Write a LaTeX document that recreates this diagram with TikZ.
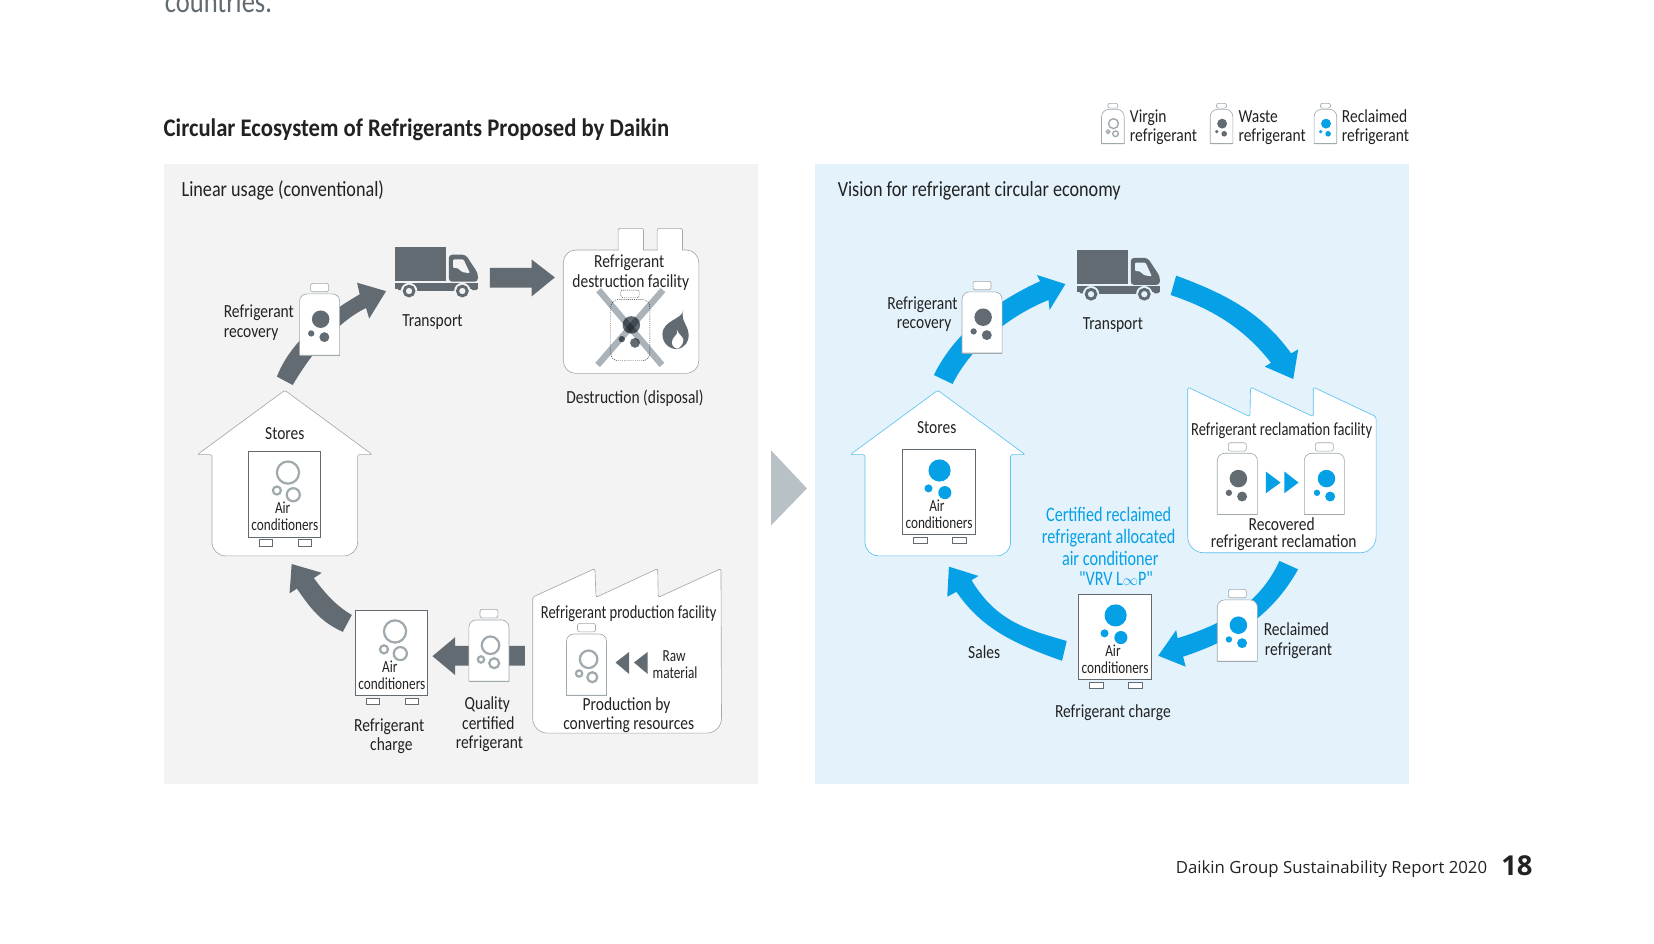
\documentclass[tikz,border=0pt]{standalone}
\usepackage{fontspec}
\setmainfont[FakeStretch=0.84]{Carlito}
\newfontfamily\tightfont[FakeStretch=0.786]{Carlito}
\newfontfamily\titlefont[FakeStretch=0.896]{Carlito}
\newfontfamily\footfont{Open Sans}
\definecolor{slate}{HTML}{636B72}
\definecolor{ring}{HTML}{9FA9AE}
\definecolor{cross}{HTML}{A9B3B9}
\definecolor{skyblue}{HTML}{05A0E6}
\definecolor{skyline}{HTML}{5BC1EE}
\definecolor{inkgrey}{HTML}{222222}
\definecolor{palegrey}{HTML}{F3F3F3}
\definecolor{paleblue}{HTML}{E3F2FB}
\definecolor{wedge}{HTML}{B8C1C5}
\tikzset{
	tag/.style={font=\fontsize{17.5}{18}\selectfont, text=inkgrey, inner sep=0pt, text height=14pt, text depth=1.5pt},
	tighttag/.style={tag, font=\tightfont\fontsize{17.5}{18}\selectfont},
	smalltag/.style={font=\tightfont\fontsize{16}{16}\selectfont, text=inkgrey, inner sep=0pt, text height=13pt, text depth=1pt},
	head/.style={font=\fontsize{20.5}{20.5}\selectfont, text=inkgrey, inner sep=0pt, anchor=base west},
	bluetag/.style={font=\tightfont\fontsize{19.5}{19.5}\selectfont, text=skyblue, inner sep=0pt, text height=14pt, text depth=1pt},
	hollowdot/.style={draw=ring, line width=2.1pt, fill=none},
	thinhollowdot/.style={draw=ring, line width=1.3pt, fill=none},
	wastedot/.style={fill=slate},
	bluedot/.style={fill=skyblue},
	greyarrow/.style={fill=slate},
	bluearrow/.style={fill=skyblue},
}
\newcommand{\bubbles}[3] % centre x, top of bottle y, dot style
{
	\path[#3] (#1+1,#2+34) circle (8.3);
	\path[#3] (#1-8,#2+47.5) circle (3);
	\path[#3] (#1+4.5,#2+51) circle (4.7);
}
\newcommand{\bottle}[2] % centre x, top y
{
	% cap
	\draw[fill=white, draw=ring, line width=0.6pt, rounded corners=2pt] (#1-8.5,#2+8) rectangle (#1+8.5,#2);
	% body
	\draw[fill=white, draw=ring, line width=0.6pt] (#1-19,#2+68) [rounded corners=7pt] -- (#1-19,#2+10) -- (#1+19,#2+10) [sharp corners] -- (#1+19,#2+68) -- cycle;
	\draw[draw=ring, line width=1pt] (#1-19,#2+68) -- (#1+19,#2+68);
}
\newcommand{\legendmark}[3] % centre x, top y, dot style
{
	\begin{scope}[shift={(#1,#2)}, scale=0.565]
		\bottle{0}{0}
		\bubbles{0}{0}{#3}
	\end{scope}
}
\newcommand{\aircon}[4] % left x, top y, dot style, name
{
	\draw[fill=white, draw=slate, line width=0.7pt] (#1,#2) rectangle (#1+68.5,#2+81);
	\draw[fill=white, draw=slate, line width=0.6pt] (#1+10.5,#2+83.5) rectangle (#1+23,#2+89.5);
	\draw[fill=white, draw=slate, line width=0.6pt] (#1+47.5,#2+83.5) rectangle (#1+60,#2+89.5);
	\path[#3] (#1+37.5,#2+20) circle (10.5);
	\path[#3] (#1+27,#2+37) circle (3.8);
	\path[#3] (#1+42.5,#2+41) circle (6.2);
	\node[smalltag] (#4air) at (#1+32.5,#2+53) {Air};
	\node[smalltag] (#4cond) at (#1+34.5,#2+69) {conditioners};
}
\newcommand{\shop}[2] % centre x, line colour
{
	\draw[fill=white, draw=#2, line width=0.6pt, rounded corners=2pt] (#1,370) -- (#1+83,431) -- (#1+69,431)
		[rounded corners=13pt] -- (#1+69,527) -- (#1-69,527)
		[rounded corners=2pt] -- (#1-69,431) -- (#1-83,431) -- cycle;
}
\newcommand{\truck}[3] % left x, top y, ground colour
{
	\fill[slate] (#1,#2) rectangle (#1+48.5,#2+32.5);
	% cab
	\fill[slate, rounded corners=3pt] (#1+51,#2+33) -- (#1+51,#2+7.5) -- (#1+67,#2+7.5) -- (#1+78.5,#2+25) -- (#1+78.5,#2+33) -- cycle;
	\fill[#3, rounded corners=1pt] (#1+55,#2+12) -- (#1+65,#2+12) -- (#1+71,#2+25) -- (#1+64,#2+24) -- (#1+59,#2+20) -- (#1+55,#2+20) -- cycle;
	% chassis
	\fill[slate] (#1,#2+34.5) rectangle (#1+78.5,#2+39.5);
	\fill[slate] (#1+20,#2+39) rectangle (#1+58,#2+42);
	\fill[slate, rounded corners=1.5pt] (#1+2,#2+38) rectangle (#1+7,#2+41);
	\fill[slate, rounded corners=1.5pt] (#1+72,#2+38) rectangle (#1+78.5,#2+41);
	% wheels
	\draw[#3, line width=1.6pt, fill=#3] (#1+13.3,#2+41.9) circle (7);
	\draw[#3, line width=1.6pt, fill=#3] (#1+63.8,#2+41.9) circle (7);
	\draw[slate, line width=2.8pt] (#1+13.3,#2+41.9) circle (4.6);
	\draw[slate, line width=2.8pt] (#1+63.8,#2+41.9) circle (4.6);
}
\begin{document}
\begin{tikzpicture}[x=1pt, y=-1pt]
	\useasboundingbox (0,0) rectangle (1568,894);
	\fill[white] (0,0) rectangle (1568,894);
	\node[font=\fontsize{30}{30}\selectfont, text=slate, inner sep=0pt, anchor=base west] (intro) at (156,12) {countries.};
	\node[font=\titlefont\fontsize{24}{24}\bfseries\selectfont, text=inkgrey, inner sep=0pt, anchor=base west] (title) at (155,129) {Circular Ecosystem of Refrigerants Proposed by Daikin};
	% panels
	\fill[palegrey] (155,155) rectangle (718.5,743.5);
	\fill[paleblue] (772.5,155) rectangle (1336,743.5);
	\fill[wedge] (731,427) -- (765,463) -- (731,498) -- cycle;
	\node[head] (lefthead) at (172,186) {Linear usage (conventional)};
	\node[head] (righthead) at (794,186) {Vision for refrigerant circular economy};
	% legend
	\legendmark{1055}{98}{thinhollowdot}
	\node[tag, anchor=west] (virgina) at (1071,110) {Virgin};
	\node[tag, anchor=west] (virginb) at (1071,128) {refrigerant};
	\legendmark{1158}{98}{wastedot}
	\node[tag, anchor=west] (wastea) at (1174,110) {Waste};
	\node[tag, anchor=west] (wasteb) at (1174,128) {refrigerant};
	\legendmark{1256.5}{98}{bluedot}
	\node[tag, anchor=west] (reclaimeda) at (1272,110) {Reclaimed};
	\node[tag, anchor=west] (reclaimedb) at (1272,128) {refrigerant};
	% linear usage: arrows first, they pass behind the bottles
	\fill[greyarrow] (262.5,357) .. controls (275,325) and (305,300) .. (341,279) -- (338.5,268) -- (366,276) -- (350,302) -- (347,292) .. controls (320,305) and (295,335) .. (277.5,365) -- cycle;
	\fill[greyarrow] (464.5,254) -- (504,254) -- (504,246) -- (526,263) -- (504,281) -- (504,272.7) -- (464.5,272.7) -- cycle;
	\fill[greyarrow] (276.5,534.7) -- (305,543) -- (297.5,548) .. controls (310,565) and (320,575) .. (333.5,583) -- (325,599) .. controls (305,590) and (295,578) .. (281.5,558) -- (274.5,562.5) -- cycle;
	\fill[greyarrow] (410,622) -- (431.5,604) -- (431.5,612.4) -- (497.5,612.4) -- (497.5,631) -- (431.5,631) -- (431.5,640) -- cycle;
	\shop{270}{ring}
	\node[tag] (storesa) at (270,410) {Stores};
	\aircon{235.5}{428}{hollowdot}{storesunit}
	\bottle{303}{268.6}
	\bubbles{303}{268.6}{wastedot}
	\node[tag, anchor=west] (recoverya) at (212,295) {Refrigerant};
	\node[tag, anchor=west] (recoveryb) at (212,314) {recovery};
	\truck{374.5}{234}{palegrey}
	\node[tag] (transporta) at (410,303) {Transport};
	% destruction facility
	\draw[fill=white, draw=ring, line width=0.6pt, rounded corners=2pt] (586,240) -- (586,216.5) -- (610,216.5) -- (610,240) -- (623,240) -- (623,216.5) -- (647,216.5) -- (647,240) -- cycle;
	\draw[fill=white, draw=ring, line width=0.6pt, rounded corners=12pt] (534,237) rectangle (662.5,354);
	\fill[white] (586.4,232) rectangle (609.6,240);
	\fill[white] (623.4,232) rectangle (646.6,240);
	\node[tag] (burna) at (596.5,247) {Refrigerant};
	\node[tag] (burnb) at (598,266) {destruction facility};
	\draw[inkgrey, line width=0.4pt, dash pattern=on 1pt off 1pt, rounded corners=2pt] (588.5,282) rectangle (606,275);
	\draw[inkgrey, line width=0.4pt, dash pattern=on 1pt off 1pt, rounded corners=7pt] (579,342) -- (579,284) -- (616,284) -- (616,342) -- cycle;
	\bubbles{597.5}{274}{wastedot}
	\draw[cross, line width=6pt, blend mode=multiply] (567.5,275) -- (627.5,346);
	\draw[cross, line width=6pt, blend mode=multiply] (628.5,275) -- (566.5,346);
	% flame
	\fill[slate] (647.8,293.3) .. controls (648,303) and (628,303) .. (628,317) .. controls (628,325) and (634,331) .. (642,331) .. controls (650,329) and (653,324) .. (652.8,317) .. controls (652,307) and (645,305) .. (647.8,293.3) -- cycle;
	\fill[white] (642,313) .. controls (643,319) and (636.5,319) .. (637,325) .. controls (637,328) and (640,330.5) .. (642.5,330.5) .. controls (645,329) and (648,326) .. (647.8,322) .. controls (647.5,319) and (643,317) .. (642,313) -- cycle;
	\node[tag] (burnc) at (602,376) {Destruction (disposal)};
	% production facility
	\draw[fill=white, draw=ring, line width=0.6pt, rounded corners=2pt] (505,580) -- (505,566) -- (564,539) -- (565,566.3) -- (623.5,539) -- (624,566.3) -- (683.5,539)
		[rounded corners=14pt] -- (684,695) -- (505,695) [rounded corners=2pt] -- cycle;
	\node[tighttag] (makea) at (596,580) {Refrigerant production facility};
	\bottle{556}{591}
	\bubbles{557}{591}{hollowdot}
	\fill[greyarrow] (583.5,628) -- (596.5,618) -- (596.5,639) -- cycle;
	\fill[greyarrow] (601,628) -- (614,618) -- (614,639) -- cycle;
	\node[smalltag] (rawa) at (639,621) {Raw};
	\node[smalltag] (rawb) at (640,637) {material};
	\node[tag] (makeb) at (594,667) {Production by};
	\node[tag] (makec) at (596,685) {converting resources};
	\bottle{463.5}{577.7}
	\bubbles{464}{577.7}{hollowdot}
	\node[tag] (qualitya) at (462,666) {Quality};
	\node[tag] (qualityb) at (463,685) {certified};
	\node[tag] (qualityc) at (464,703) {refrigerant};
	\aircon{337}{578.6}{hollowdot}{chargeunit}
	\node[tag] (chargea) at (369,687) {Refrigerant};
	\node[tag] (chargeb) at (371,705) {charge};
	% circular economy: arrows first again
	\fill[bluearrow] (885.3,355.5) .. controls (905,315) and (945,285) .. (986,266.6) -- (983,260.7) -- (1010,269.3) -- (995,293.9) -- (994,284.4) .. controls (955,300) and (920,330) .. (903,364) -- cycle;
	\fill[bluearrow] (1115,261.3) .. controls (1160,278) and (1195,295) .. (1224,335) -- (1230.7,331.2) -- (1226,359.3) -- (1199,347.6) -- (1205,344) .. controls (1180,312) and (1150,293) .. (1109.8,279.7) -- cycle;
	\fill[bluearrow] (1212.9,531.8) .. controls (1195,570) and (1165,590) .. (1116.4,605) -- (1115,597.3) -- (1098,621.6) -- (1124,632) -- (1121.6,622.5) .. controls (1175,605) and (1208,580) .. (1230.6,539.7) -- cycle;
	\fill[bluearrow] (899.6,537.2) -- (927.6,546) -- (921,550) .. controls (945,590) and (975,597) .. (1011.3,607.7) -- (1006.8,626.4) .. controls (960,610) and (930,595) .. (906.7,561) -- (898,565.7) -- cycle;
	\shop{889}{skyline}
	\node[tag] (storesb) at (888,405) {Stores};
	\aircon{855.7}{426}{bluedot, xshift=-2.5pt}{loopunit}
	\bottle{931}{266.7}
	\bubbles{931}{266.7}{wastedot}
	\node[tag] (recoveryc) at (874.5,287) {Refrigerant};
	\node[tag] (recoveryd) at (876,305) {recovery};
	\truck{1021}{237}{paleblue}
	\node[tag] (transportb) at (1055,306) {Transport};
	% reclamation facility
	\draw[fill=white, draw=skyline, line width=0.6pt, rounded corners=2pt] (1126,380) -- (1126,367) -- (1185,395) -- (1185.5,367) -- (1245,395) -- (1245,367) -- (1304.5,395)
		[rounded corners=15pt] -- (1304.5,524) -- (1126,524) [rounded corners=2pt] -- cycle;
	\node[tighttag] (cleana) at (1215,407) {Refrigerant reclamation facility};
	\bottle{1173}{419.7}
	\bubbles{1173}{419.7}{wastedot}
	\bottle{1255.5}{419.7}
	\bubbles{1256.5}{419.7}{bluedot}
	\fill[bluearrow] (1214,457.5) -- (1200,447) -- (1200,467.6) -- cycle;
	\fill[bluearrow] (1231,457.5) -- (1217.6,447) -- (1217.6,467.6) -- cycle;
	\node[tag] (cleanb) at (1215,497) {Recovered};
	\node[tag] (cleanc) at (1217,513) {refrigerant reclamation};
	\bottle{1173}{558.7}
	\bubbles{1173}{558.7}{bluedot}
	\node[tag] (backa) at (1229,596) {Reclaimed};
	\node[tag] (backb) at (1231,615) {refrigerant};
	\aircon{1022.6}{563.4}{bluedot, xshift=-2.5pt}{vrvunit}
	\node[tag] (sales) at (933,618) {Sales};
	\node[tag] (chargec) at (1055,674) {Refrigerant charge};
	\node[bluetag] (vrva) at (1051,488) {Certified reclaimed};
	\node[bluetag] (vrvb) at (1051,509) {refrigerant allocated};
	\node[bluetag] (vrvc) at (1052.5,530) {air conditioner};
	\node[bluetag] (vrvd) at (1058,549) {"VRV L$\scriptstyle\infty$P"};
	% footer
	\node[font=\footfont\fontsize{15.9}{15.9}\selectfont, text=inkgrey, inner sep=0pt, anchor=base east] (report) at (1410,828) {Daikin Group Sustainability Report 2020};
	\node[font=\footfont\fontsize{26}{26}\bfseries\selectfont, text=inkgrey, inner sep=0pt, anchor=base west] (pageno) at (1423,830) {18};
\end{tikzpicture}
\end{document}
